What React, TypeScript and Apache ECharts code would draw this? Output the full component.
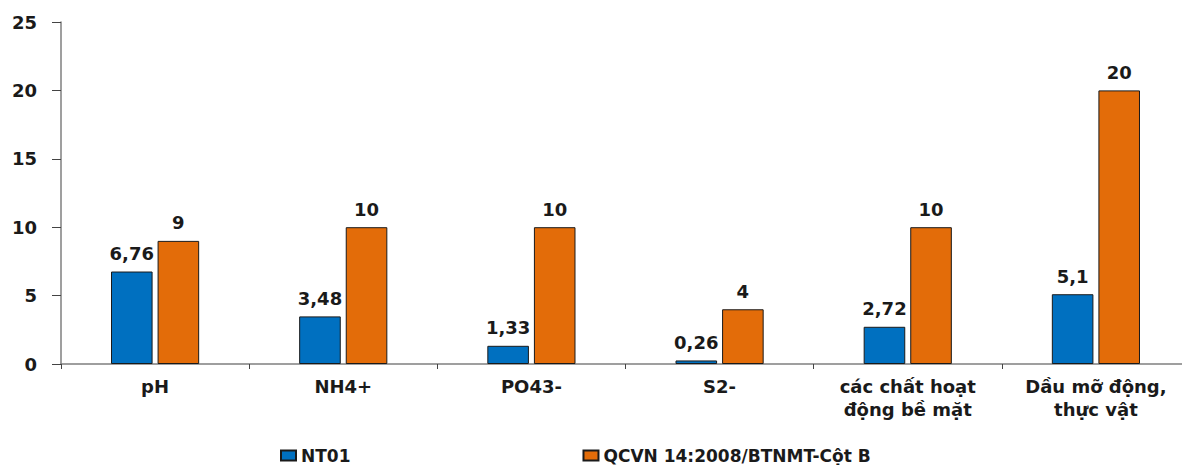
import React, { useEffect, useRef } from "react";
import * as echarts from "echarts";

const categories = [
  "pH",
  "NH4+",
  "PO43-",
  "S2-",
  "các chất hoạt\nđộng bề mặt",
  "Dầu mỡ động,\nthực vật",
];
const nt01 = [6.76, 3.48, 1.33, 0.26, 2.72, 5.1];
const qcvn = [9, 10, 10, 4, 10, 20];
const seriesNames = ["NT01", "QCVN 14:2008/BTNMT-Cột B"];

const FONT = "DejaVu Sans";

const fmt = (v: number) => String(v).replace(".", ",");

export default function App() {
  const ref = useRef<HTMLDivElement>(null);

  useEffect(() => {
    if (!ref.current) return;
    const chart = echarts.init(ref.current, undefined, { renderer: "svg" });
    const label = {
      show: true,
      position: "top" as const,
      distance: 9,
      fontFamily: FONT,
      fontWeight: "bold" as const,
      fontSize: 18,
      color: "#1a1a1a",
      formatter: (p: any) => fmt(p.value),
    };
    chart.setOption({
      animation: false,
      backgroundColor: "#ffffff",
      // the plot runs slightly past the visible right edge
      grid: { left: 61, right: 10, top: 22, height: 342, containLabel: false },
      legend: {
        top: 447,
        left: 280,
        padding: 0,
        itemWidth: 15,
        itemHeight: 10,
        itemGap: 232,
        icon: "rect",
        textStyle: {
          fontFamily: FONT,
          fontWeight: "bold",
          fontSize: 17,
          lineHeight: 17,
          color: "#1a1a1a",
          padding: [0, 0, 0, 0],
        },
        data: seriesNames,
      },
      xAxis: {
        type: "category",
        data: categories,
        axisLine: { lineStyle: { color: "#7f7f7f", width: 1.5 } },
        axisTick: { show: true, length: 5, lineStyle: { color: "#444" } },
        axisLabel: {
          margin: 11,
          fontFamily: FONT,
          fontWeight: "bold",
          fontSize: 18,
          lineHeight: 23,
          color: "#1a1a1a",
        },
      },
      yAxis: {
        type: "value",
        min: 0,
        max: 25,
        interval: 5,
        splitLine: { show: false },
        axisLine: { show: true, lineStyle: { color: "#7f7f7f", width: 1.5 } },
        axisTick: { show: true, inside: false, length: 9, lineStyle: { color: "#444" } },
        axisLabel: {
          margin: 24,
          fontFamily: FONT,
          fontWeight: "bold",
          fontSize: 18,
          color: "#1a1a1a",
        },
      },
      series: [
        {
          name: seriesNames[0],
          type: "bar",
          data: nt01,
          barWidth: "22.1%",
          barGap: "12%",
          itemStyle: { color: "#0070C0", borderColor: "#1a1a1a", borderWidth: 1 },
          label,
        },
        {
          name: seriesNames[1],
          type: "bar",
          data: qcvn,
          barWidth: "22.1%",
          barGap: "12%",
          itemStyle: { color: "#E36C09", borderColor: "#1a1a1a", borderWidth: 1 },
          label,
        },
      ],
    });
    return () => chart.dispose();
  }, []);

  return (
    <div
      style={{
        position: "fixed",
        left: 0,
        top: 0,
        width: 1182,
        height: 465,
        overflow: "hidden",
        background: "#ffffff",
      }}
    >
      <div ref={ref} style={{ width: 1200, height: 465 }} />
    </div>
  );
}
